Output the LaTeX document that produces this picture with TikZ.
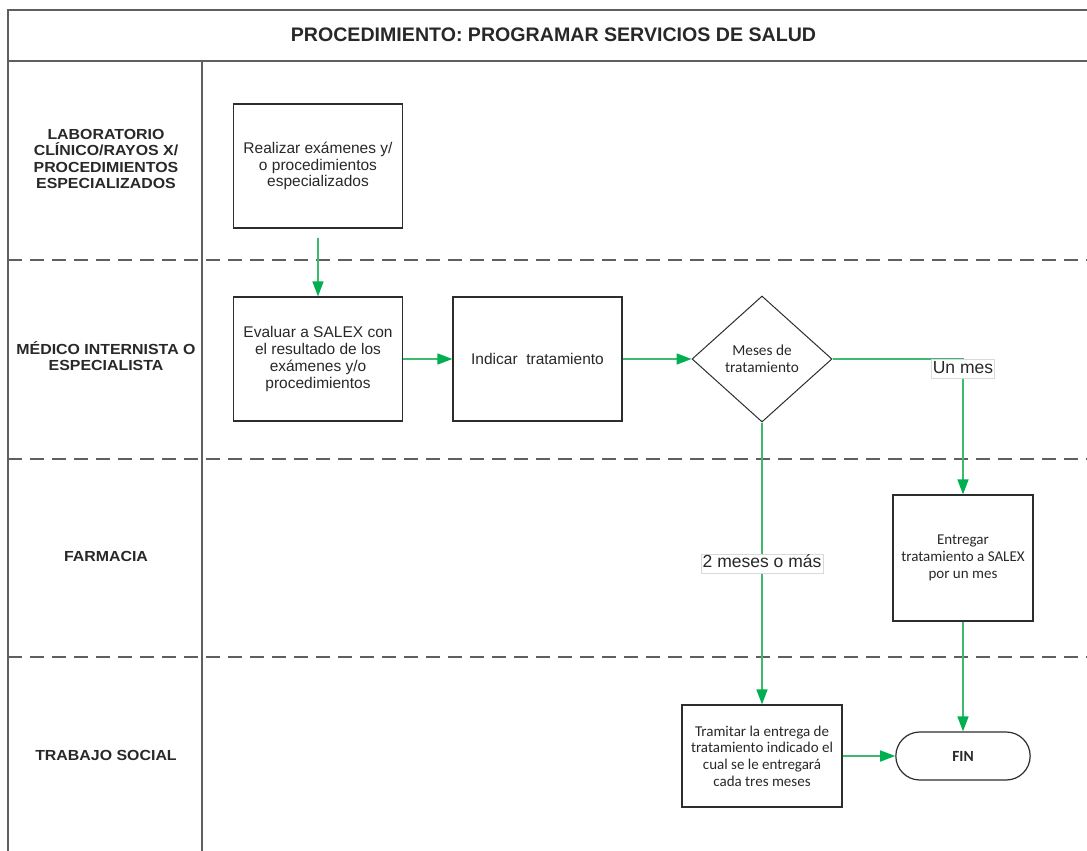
\documentclass[tikz,border=0pt]{standalone}
\usepackage{fontspec}
\setmainfont{Liberation Sans}
\newfontfamily\calib{Carlito}
\newfontfamily\lanefont[FakeStretch=1.09]{Liberation Sans}
\usetikzlibrary{arrows.meta,shapes.geometric,shapes.misc}
\definecolor{flowgreen}{RGB}{0,176,80}
\definecolor{linegreen}{RGB}{60,186,110}
\definecolor{framegray}{RGB}{95,95,95}
\definecolor{boxgray}{RGB}{45,45,45}
\definecolor{txtgray}{RGB}{40,40,40}
\begin{document}
\begin{tikzpicture}[x=1pt,y=-1pt,
  frame/.style={draw=framegray,line width=1.3pt},
  lanedash/.style={draw=framegray,line width=1.6pt,dash pattern=on 14pt off 8pt},
  lanelabel/.style={font=\lanefont\fontsize{14.6}{16.6}\selectfont\bfseries,align=center,text=txtgray},
  procbox/.style={draw=boxgray,line width=1.2pt,minimum width=169pt,minimum height=124pt,
    align=center,inner sep=2pt,font=\fontsize{15.5}{16.7}\selectfont,text=txtgray},
  calbox/.style={draw=boxgray,line width=1.2pt,align=center,inner sep=2pt,
    font=\calib\fontsize{15}{16.7}\selectfont,text=txtgray},
  decision/.style={shape=diamond,draw=boxgray,line width=1pt,minimum width=140pt,
    minimum height=126pt,inner sep=0pt,align=center,font=\calib\fontsize{15.3}{16.7}\selectfont,text=txtgray},
  terminal/.style={shape=rounded rectangle,draw=boxgray,line width=1.2pt,minimum width=141pt,
    minimum height=48pt,font=\calib\fontsize{15.5}{18}\selectfont\bfseries,text=txtgray},
  flow/.style={draw=linegreen,line width=1.5pt,-{Triangle[length=15pt,width=11pt,fill=flowgreen,color=flowgreen]}},
  lbl/.style={fill=white,draw=black!15,line width=0.6pt,inner sep=1.5pt,text height=12.5pt,
    text depth=3.5pt,font=\fontsize{17.5}{20}\selectfont,text=txtgray}
]
\useasboundingbox (0,0) rectangle (1087,851);
% frame
\draw[frame] (1087,10) -- (8,10) -- (8,851);
\draw[frame] (8,61) -- (1087,61);
\draw[frame] (202,61) -- (202,851);
\draw[lanedash] (8,260) -- (1087,260);
\draw[lanedash] (8,459) -- (1087,459);
\draw[lanedash] (8,657) -- (1087,657);
% title
\node[font=\fontsize{19.6}{22}\selectfont\bfseries,text=txtgray] (title) at (553.5,35) {PROCEDIMIENTO: PROGRAMAR SERVICIOS DE SALUD};
% lane labels
\node[lanelabel] (l1) at (106,159) {LABORATORIO\\CLÍNICO/RAYOS X/\\PROCEDIMIENTOS\\ESPECIALIZADOS};
\node[lanelabel] (l2) at (106,356) {MÉDICO INTERNISTA O\\ESPECIALISTA};
\node[lanelabel] (l3) at (106,556) {FARMACIA};
\node[lanelabel] (l4) at (106,755) {TRABAJO SOCIAL};
% process nodes
\node[procbox] (realizar) at (318,166) {Realizar exámenes y/\\o procedimientos\\especializados};
\node[procbox] (evaluar) at (318,359) {Evaluar a SALEX con\\el resultado de los\\exámenes y/o\\procedimientos};
\node[procbox] (indicar) at (537.5,359) {Indicar\ \ tratamiento};
\node[decision] (dec) at (762,359) {Meses de\\tratamiento};
\node[calbox,minimum width=140pt,minimum height=126pt] (entregar) at (963,558) {Entregar\\tratamiento a SALEX\\por un mes};
\node[calbox,minimum width=160pt,minimum height=102pt] (tramitar) at (762,756) {Tramitar la entrega de\\tratamiento indicado el\\cual se le entregará\\cada tres meses};
\node[terminal] (fin) at (963,756) {FIN};
% connectors
\draw[flow,shorten <=9pt] (realizar.south) -- (evaluar.north);
\draw[flow] (evaluar.east) -- (indicar.west);
\draw[flow] (indicar.east) -- (dec.west);
\draw[flow] (dec.east) -| node[lbl,anchor=north,pos=0.5] {Un mes} (entregar.north);
\draw[flow] (dec.south) -- node[lbl] {2 meses o más} (tramitar.north);
\draw[flow] (entregar.south) -- (fin.north);
\draw[flow] (tramitar.east) -- (fin.west);
\end{tikzpicture}
\end{document}
